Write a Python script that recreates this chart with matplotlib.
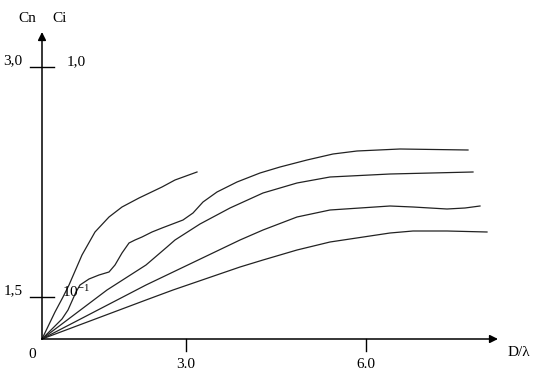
"""Schematic Cn / Ci versus D/lambda curves.
"""
import matplotlib
matplotlib.use('Agg')
import matplotlib.pyplot as plt

plt.rcParams['font.family'] = ['Liberation Serif', 'DejaVu Serif']

# curves (chart units, origin at the axes corner)
curve1_x = [0, 13, 21, 27, 40, 53, 67, 80, 97, 120, 133, 155]
curve1_y = [0, 27, 42, 54, 84, 107, 122, 132, 141, 152, 159, 167]

curve2_x = [0, 10, 20, 26, 30, 34, 38, 47, 57, 67, 73, 80, 87, 93, 100,
            110, 120, 141, 151, 161, 175, 195, 218, 238, 265, 291, 315,
            358, 426]
curve2_y = [0, 10, 20, 29, 38, 47, 54, 60, 64, 67, 74, 86, 96, 99, 102,
            107, 111, 119, 126, 137, 147, 157, 166, 172, 179, 185, 188,
            190, 189]

curve3_x = [0, 65, 104, 125, 133, 158, 188, 221, 238, 255, 288, 348, 431]
curve3_y = [0, 49, 74, 92, 99, 115, 131, 146, 151, 156, 162, 165, 167]

curve4_x = [0, 104, 198, 221, 255, 288, 348, 371, 405, 423, 438]
curve4_y = [0, 54, 99, 109, 122, 129, 133, 132, 130, 131, 133]

curve5_x = [0, 104, 131, 198, 221, 255, 288, 348, 371, 405, 445]
curve5_y = [0, 39, 49, 72, 79, 89, 97, 106, 108, 108, 107]

x_ticks = [144, 324]
x_labels = ['3.0', '6.0']
y_ticks = [272, 42]
y_left_labels = ['3,0', '1,5']
y_right_labels = ['1,0', r'$\mathregular{10^{-1}}$']

fig = plt.figure(figsize=(5.42, 3.78), dpi=100)
ax = fig.add_axes([0, 0, 1, 1])
ax.set_xlim(-42, 500)
ax.set_ylim(-39, 339)
ax.axis('off')

for cx, cy in [(curve1_x, curve1_y), (curve2_x, curve2_y),
               (curve3_x, curve3_y), (curve4_x, curve4_y),
               (curve5_x, curve5_y)]:
    ax.plot(cx, cy, color='#222222', lw=0.9, solid_joinstyle='round')

# axes with arrow heads
arrow = dict(arrowstyle='-|>', lw=1.1, color='black', mutation_scale=12,
             shrinkA=0, shrinkB=0)
ax.annotate('', xy=(0, 307), xytext=(0, 0), arrowprops=arrow)
ax.annotate('', xy=(456, 0), xytext=(0, 0), arrowprops=arrow)

# tick marks
for t in x_ticks:
    ax.plot([t, t], [0, -12], color='black', lw=1)
for t in y_ticks:
    ax.plot([-12, 12], [t, t], color='black', lw=1)

fs = 11
for t, lab in zip(x_ticks, x_labels):
    ax.text(t, -26, lab, ha='center', va='center', fontsize=fs)
for t, left, right in zip(y_ticks, y_left_labels, y_right_labels):
    ax.text(-29, t + 6, left, ha='center', va='center', fontsize=fs)
    ax.text(34, t + 5, right, ha='center', va='center', fontsize=fs)

ax.text(-15, 321, 'Cn', ha='center', va='center', fontsize=fs)
ax.text(18, 321, 'Ci', ha='center', va='center', fontsize=fs)
ax.text(-10, -16, '0', ha='center', va='center', fontsize=fs)
ax.text(477, -14, 'D/λ', ha='center', va='center', fontsize=fs)

fig.savefig('out.png', dpi=100)
